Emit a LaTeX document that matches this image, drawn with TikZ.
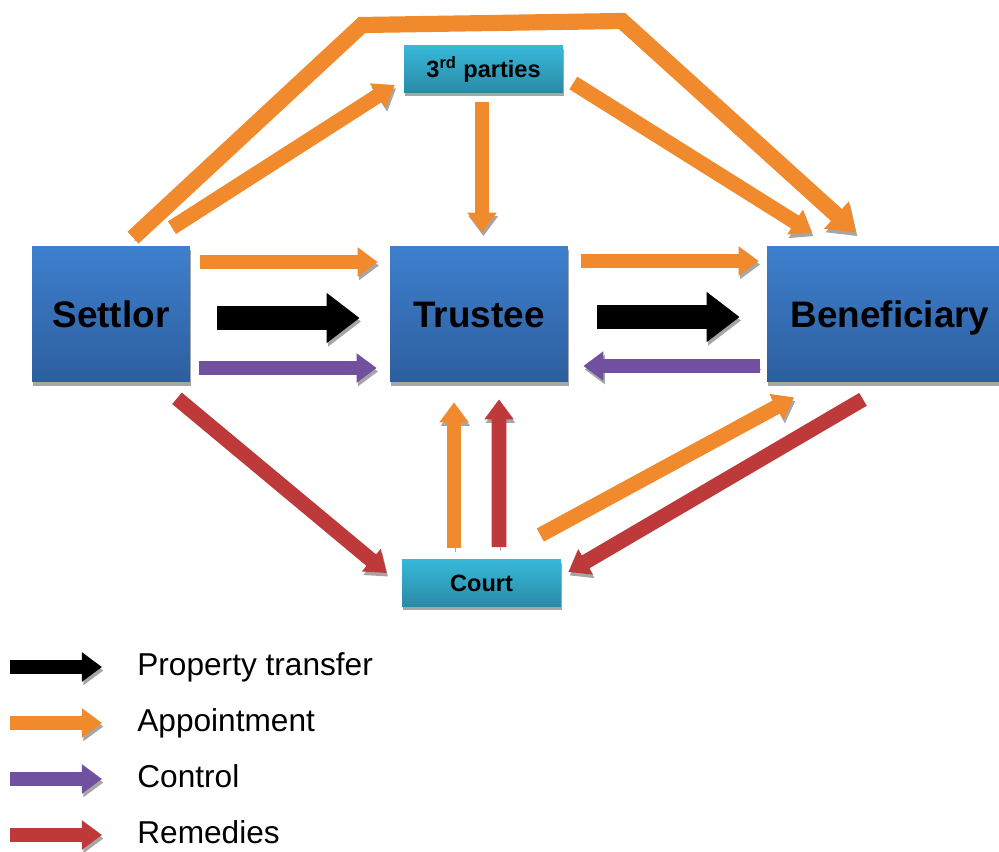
\documentclass[tikz,border=0pt]{standalone}
\usepackage{fontspec}
\setmainfont{Liberation Sans}
\usetikzlibrary{
    arrows.meta,
    calc,
    shadows
}
\definecolor{bluetop}{HTML}{3E80CE}
\definecolor{bluebot}{HTML}{2D5E9E}
\definecolor{cyantop}{HTML}{38B8DA}
\definecolor{cyanbot}{HTML}{2A8AA5}
\definecolor{apporange}{HTML}{F08A2C}
\definecolor{ctrlpurple}{HTML}{7250A0}
\definecolor{remred}{HTML}{BE3A3A}
\definecolor{shadowgray}{HTML}{A6A6A6}
\tikzset{
    party/.style={rectangle, inner sep=0pt, top color=bluetop, bottom color=bluebot,
        drop shadow={shadow xshift=0.8pt, shadow yshift=-2.2pt, fill=shadowgray, opacity=1},
        font=\fontsize{21}{25}\bfseries\selectfont, text height=15pt, text depth=0pt,
        minimum height=2.72cm},
    other/.style={party, top color=cyantop, bottom color=cyanbot,
        font=\fontsize{13.4}{16}\bfseries\selectfont, text height=9.6pt,
        minimum width=3.18cm, minimum height=0.94cm},
    key/.style={anchor=base west, inner sep=0pt, font=\fontsize{18}{22}\selectfont},
    flow/.style={line width=8.5pt, -{Triangle[length=11.4pt,width=16pt]},
        preaction={draw=shadowgray, transform canvas={xshift=0.8pt,yshift=-2pt}}},
    transfer/.style={flow, line width=13.7pt, -{Triangle[length=18.8pt,width=27.3pt]}},
    big/.style={flow, line width=9.2pt, line join=miter, -{Triangle[length=15pt,width=20pt]}}
}
\begin{document}
\begin{tikzpicture}[x=0.02cm, y=-0.02cm]
    \useasboundingbox (0,0) rectangle (999,851);
    % parties
    \node[party, minimum width=3.16cm] (settlor) at (111,314) {Settlor};
    \node[party, minimum width=3.56cm] (trustee) at (479,314) {Trustee};
    \node[party, minimum width=4.64cm] (benef) at (883,314) {\hspace{8pt}Beneficiary};
    \node[other] (third) at (483.5,69) {3\textsuperscript{rd} parties};
    \node[other] (court) at (481.5,583) {Court};
    \coordinate (bendl) at (362,25);
    \coordinate (bendr) at (622,21);
    % appointment
    \draw[big, draw=apporange] ($(settlor.north)+(22,-8)$) -- (bendl) -- (bendr) -- ($(benef.north)+(-27,-13)$);
    \draw[flow, draw=apporange] ($(settlor.north)+(61,-18)$) -- ($(third.west)+(-9,16)$);
    \draw[flow, draw=apporange] ($(third.south)+(-1.5,9)$) -- ($(trustee.north)+(3,-13)$);
    \draw[flow, draw=apporange] ($(third.east)+(10,14)$) -- ($(benef.north)+(-71,-13)$);
    \draw[flow, draw=apporange] ($(settlor.east)+(10,-52)$) -- ($(trustee.west)+(-12,-52)$);
    \draw[flow, draw=apporange] ($(trustee.east)+(13,-53)$) -- ($(benef.west)+(-8,-53)$);
    \draw[flow, draw=apporange] ($(court.north)+(-27.5,-11)$) -- ($(trustee.south)+(-25,20)$);
    \draw[flow, draw=apporange] ($(court.east)+(-21,-48)$) -- ($(benef.south)+(-89,15)$);
    % property transfer
    \draw[transfer, draw=black] ($(settlor.east)+(27,4)$) -- ($(trustee.west)+(-30,4)$);
    \draw[transfer, draw=black] ($(trustee.east)+(29,3)$) -- ($(benef.west)+(-27,3)$);
    % control
    \draw[flow, draw=ctrlpurple] ($(settlor.east)+(9,54)$) -- ($(trustee.west)+(-13,54)$);
    \draw[flow, draw=ctrlpurple] ($(benef.west)+(-7,52)$) -- ($(trustee.east)+(15,52)$);
    % remedies
    \draw[flow, draw=remred] ($(settlor.south)+(66,16)$) -- ($(court.west)+(-15,-10)$);
    \draw[flow, draw=remred] ($(court.north)+(17.5,-12)$) -- ($(trustee.south)+(20,17)$);
    \draw[flow, draw=remred] ($(benef.south)+(-20,17)$) -- ($(court.east)+(7,-11)$);
    % legend
    \node[key] (ktransfer) at (137,675) {Property transfer};
    \node[key] (kappoint) at (137,731) {Appointment};
    \node[key] (kcontrol) at (137,787) {Control};
    \node[key] (kremedy) at (137,843) {Remedies};
    \coordinate (k1) at (10,667);
    \coordinate (k2) at (10,723);
    \coordinate (k3) at (10,779);
    \coordinate (k4) at (10,835);
    \draw[flow, draw=black] (k1) -- ($(ktransfer.base west)+(-35,-8)$);
    \draw[flow, draw=apporange] (k2) -- ($(kappoint.base west)+(-35,-8)$);
    \draw[flow, draw=ctrlpurple] (k3) -- ($(kcontrol.base west)+(-35,-8)$);
    \draw[flow, draw=remred] (k4) -- ($(kremedy.base west)+(-35,-8)$);
\end{tikzpicture}
\end{document}
